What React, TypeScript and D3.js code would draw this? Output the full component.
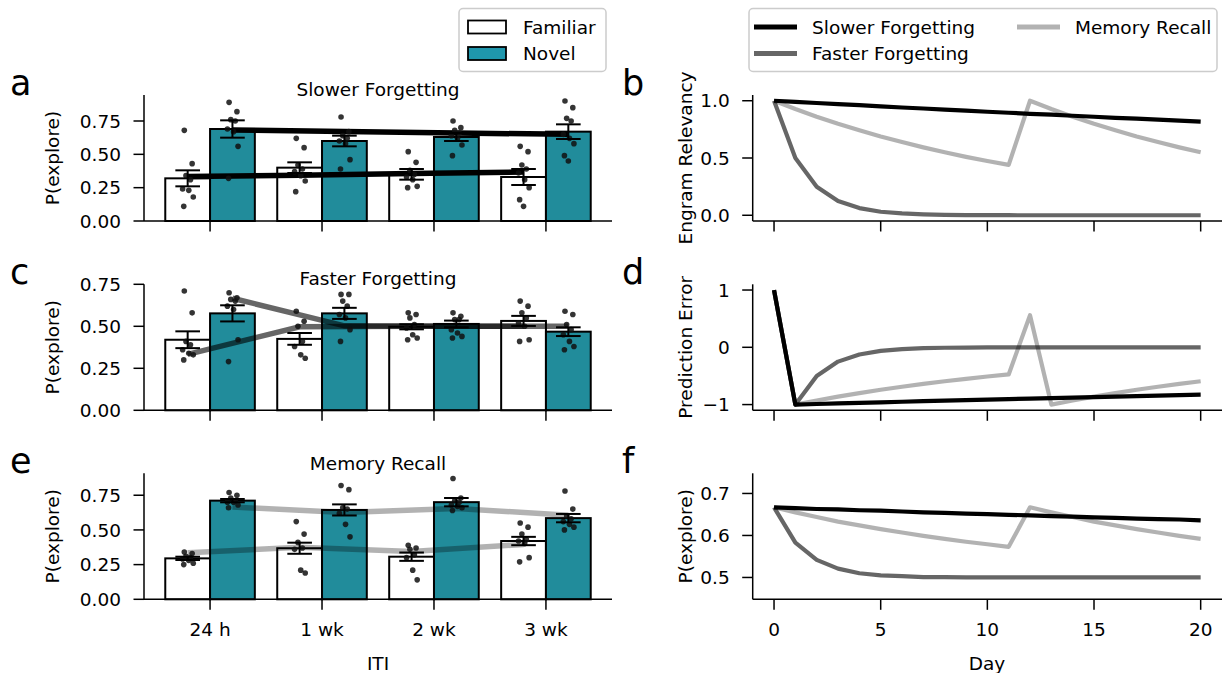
import React from "react";
import * as d3 from "d3";

// ---- data ----
const itiLabels = ["24 h", "1 wk", "2 wk", "3 wk"];
const days = [0, 1, 2, 3, 4, 5, 6, 7, 8, 9, 10, 11, 12, 13, 14, 15, 16, 17, 18, 19, 20];
const dayTicks = [0, 5, 10, 15, 20];

// a: slower forgetting (behaviour)
const slowFamMean = [0.32, 0.40, 0.35, 0.33];
const slowFamErr = [0.06, 0.04, 0.04, 0.06];
const slowNovMean = [0.69, 0.60, 0.63, 0.67];
const slowNovErr = [0.065, 0.04, 0.03, 0.055];
const slowFamDots = [
  [0.68, 0.43, 0.34, 0.31, 0.24, 0.23, 0.18, 0.11],
  [0.62, 0.55, 0.42, 0.39, 0.37, 0.34, 0.30, 0.22],
  [0.52, 0.44, 0.38, 0.35, 0.33, 0.31, 0.26, 0.25],
  [0.56, 0.52, 0.42, 0.39, 0.36, 0.31, 0.25, 0.16, 0.11],
];
const slowNovDots = [
  [0.89, 0.82, 0.76, 0.75, 0.69, 0.67, 0.56, 0.32],
  [0.78, 0.67, 0.64, 0.62, 0.60, 0.58, 0.46, 0.39],
  [0.75, 0.70, 0.68, 0.66, 0.64, 0.62, 0.57, 0.49],
  [0.90, 0.85, 0.77, 0.75, 0.65, 0.62, 0.58, 0.49, 0.45],
];
const slowFamModel = [0.334, 0.344, 0.356, 0.368];
const slowNovModel = [0.683, 0.672, 0.660, 0.650];

// c: faster forgetting
const fastFamMean = [0.42, 0.425, 0.497, 0.532];
const fastFamErr = [0.05, 0.035, 0.015, 0.03];
const fastNovMean = [0.577, 0.577, 0.514, 0.468];
const fastNovErr = [0.048, 0.033, 0.02, 0.026];
const fastFamDots = [
  [0.71, 0.58, 0.41, 0.39, 0.36, 0.34, 0.33, 0.30],
  [0.59, 0.53, 0.50, 0.41, 0.38, 0.33, 0.31],
  [0.58, 0.57, 0.55, 0.51, 0.49, 0.45, 0.43, 0.42],
  [0.65, 0.62, 0.58, 0.55, 0.52, 0.50, 0.42, 0.41],
];
const fastNovDots = [
  [0.70, 0.67, 0.66, 0.65, 0.62, 0.60, 0.42, 0.29],
  [0.69, 0.69, 0.65, 0.62, 0.57, 0.55, 0.48, 0.41],
  [0.58, 0.56, 0.54, 0.54, 0.48, 0.46, 0.44, 0.43],
  [0.59, 0.57, 0.51, 0.48, 0.45, 0.41, 0.38, 0.36],
];
const fastFamModel = [0.333, 0.497, 0.5, 0.5];
const fastNovModel = [0.667, 0.503, 0.5, 0.5];

// e: memory recall
const recFamMean = [0.295, 0.368, 0.307, 0.42];
const recFamErr = [0.012, 0.04, 0.03, 0.03];
const recNovMean = [0.711, 0.644, 0.70, 0.585];
const recNovErr = [0.012, 0.04, 0.03, 0.03];
const recFamDots = [
  [0.34, 0.33, 0.31, 0.30, 0.29, 0.28, 0.26, 0.25],
  [0.56, 0.47, 0.41, 0.37, 0.36, 0.21, 0.19],
  [0.39, 0.37, 0.36, 0.32, 0.30, 0.21, 0.14],
  [0.55, 0.52, 0.47, 0.43, 0.42, 0.40, 0.30, 0.27],
];
const recNovDots = [
  [0.77, 0.75, 0.73, 0.71, 0.70, 0.70, 0.68, 0.66],
  [0.82, 0.79, 0.66, 0.65, 0.62, 0.54, 0.45],
  [0.87, 0.73, 0.71, 0.70, 0.68, 0.67, 0.66, 0.64],
  [0.78, 0.65, 0.60, 0.58, 0.56, 0.54, 0.52, 0.50],
];
const recFamModel = [0.335, 0.375, 0.345, 0.395];
const recNovModel = [0.665, 0.625, 0.655, 0.605];

// b: engram relevancy
const relSlow = [1.0, 0.990, 0.980, 0.970, 0.961, 0.951, 0.941, 0.932, 0.923, 0.914, 0.904, 0.895, 0.886, 0.878, 0.869, 0.860, 0.851, 0.843, 0.835, 0.826, 0.818];
const relFast = [1.0, 0.5, 0.25, 0.125, 0.0625, 0.031, 0.016, 0.008, 0.004, 0.002, 0.001, 0.0005, 0, 0, 0, 0, 0, 0, 0, 0, 0];
const relRecall = [1.0, 0.928, 0.861, 0.799, 0.742, 0.688, 0.639, 0.593, 0.550, 0.510, 0.474, 0.440, 1.0, 0.928, 0.861, 0.799, 0.742, 0.688, 0.639, 0.593, 0.550];

// d: prediction error
const peSlow = [1.0, -1.0, -0.990, -0.980, -0.970, -0.961, -0.951, -0.941, -0.932, -0.923, -0.914, -0.904, -0.895, -0.886, -0.878, -0.869, -0.860, -0.851, -0.843, -0.835, -0.826];
const peFast = [1.0, -1.0, -0.5, -0.25, -0.125, -0.0625, -0.031, -0.016, -0.008, -0.004, -0.002, -0.001, 0, 0, 0, 0, 0, 0, 0, 0, 0];
const peRecall = [1.0, -1.0, -0.928, -0.861, -0.799, -0.742, -0.688, -0.639, -0.593, -0.550, -0.510, -0.474, 0.56, -1.0, -0.928, -0.861, -0.799, -0.742, -0.688, -0.639, -0.593];

// f: P(explore)
const pSlow = [0.667, 0.665, 0.663, 0.662, 0.660, 0.659, 0.657, 0.655, 0.654, 0.652, 0.651, 0.649, 0.648, 0.646, 0.645, 0.643, 0.642, 0.640, 0.639, 0.638, 0.636];
const pFast = [0.667, 0.583, 0.542, 0.521, 0.510, 0.505, 0.503, 0.501, 0.501, 0.500, 0.500, 0.500, 0.5, 0.5, 0.5, 0.5, 0.5, 0.5, 0.5, 0.5, 0.5];
const pRecall = [0.667, 0.655, 0.644, 0.633, 0.624, 0.615, 0.607, 0.599, 0.592, 0.585, 0.579, 0.573, 0.667, 0.655, 0.644, 0.633, 0.624, 0.615, 0.607, 0.599, 0.592];

const seriesNames = ["Slower Forgetting", "Faster Forgetting", "Memory Recall"];
const seriesAlpha = [1, 0.6, 0.3];

const FONT = "DejaVu Sans, sans-serif";
const FS = 18.5;
const TEAL = "#218c9b";
const jitter = [-0.03, 0.04, -0.015, 0.025, -0.045, 0.01, 0.05, -0.035, 0.0];

const LEFT_X0 = 144, LEFT_X1 = 612;
const RIGHT_X0 = 752.7, RIGHT_X1 = 1222;
const ROWS = [95, 284.3, 473.3];
const AX_H = 126;

function YAxis({ x, y, ticks, fmt }: any) {
  const r = y.range();
  return (
    <g>
      <line x1={x} x2={x} y1={r[0]} y2={r[1]} stroke="#000" strokeWidth={1.5} />
      {ticks.map((t: number) => (
        <g key={t}>
          <line x1={x - 10.5} x2={x} y1={y(t)} y2={y(t)} stroke="#000" strokeWidth={1.5} />
          <text x={x - 23} y={y(t)} dy="0.36em" textAnchor="end" fontSize={FS} fontFamily={FONT}>{fmt(t)}</text>
        </g>
      ))}
    </g>
  );
}

function XAxis({ y, x, ticks, labels }: any) {
  const r = x.range();
  return (
    <g>
      <line x1={r[0]} x2={r[1]} y1={y} y2={y} stroke="#000" strokeWidth={1.5} />
      {ticks.map((t: number, i: number) => (
        <g key={i}>
          <line x1={x(t)} x2={x(t)} y1={y} y2={y + 10.5} stroke="#000" strokeWidth={1.5} />
          {labels && (
            <text x={x(t)} y={y + 36.5} textAnchor="middle" fontSize={FS} fontFamily={FONT}>{labels[i]}</text>
          )}
        </g>
      ))}
    </g>
  );
}

function BarPanel({ top, yMax, title, titleY, letter, famMean, famErr, novMean, novErr, famDots, novDots, famModel, novModel, alpha, showLabels }: any) {
  const x = d3.scaleLinear().domain([-0.59, 3.59]).range([LEFT_X0, LEFT_X1]);
  const y = d3.scaleLinear().domain([0, yMax]).range([top + AX_H, top]);
  const bw = x(0.4) - x(0);
  const idx = itiLabels.map((_, i) => i);
  const famLine = d3.line<number>().x((_, i) => x(i - 0.2)).y((d) => y(d));
  const novLine = d3.line<number>().x((_, i) => x(i + 0.2)).y((d) => y(d));
  const cap = x(0.11) - x(0);
  const groups = [
    { mean: famMean, err: famErr, dots: famDots, off: -0.2, fill: "#fff" },
    { mean: novMean, err: novErr, dots: novDots, off: 0.2, fill: TEAL },
  ];
  return (
    <g>
      <text x={10} y={top} fontSize={35} fontFamily={FONT}>{letter}</text>
      <text x={(LEFT_X0 + LEFT_X1) / 2} y={titleY} textAnchor="middle" fontSize={FS} fontFamily={FONT}>{title}</text>
      <text transform={`translate(59,${top + AX_H / 2}) rotate(-90)`} textAnchor="middle" fontSize={FS} fontFamily={FONT}>P(explore)</text>
      {groups.map((g, gi) =>
        idx.map((i) => (
          <rect key={`b${gi}${i}`} x={x(i + g.off) - bw / 2} y={y(g.mean[i])} width={bw} height={y(0) - y(g.mean[i])}
            fill={g.fill} stroke="#000" strokeWidth={2} />
        ))
      )}
      <path d={famLine(famModel) || ""} fill="none" stroke="#000" strokeOpacity={alpha} strokeWidth={5.5} />
      <path d={novLine(novModel) || ""} fill="none" stroke="#000" strokeOpacity={alpha} strokeWidth={5.5} />
      {groups.map((g, gi) =>
        idx.map((i) =>
          g.dots[i].map((v: number, k: number) => (
            <circle key={`d${gi}${i}${k}`} cx={x(i + g.off + jitter[k % jitter.length])} cy={y(v)} r={2.8} fill="#111" fillOpacity={0.85} />
          ))
        )
      )}
      {groups.map((g, gi) =>
        idx.map((i) => {
          const cx = x(i + g.off);
          const y1 = y(g.mean[i] + g.err[i]);
          const y2 = y(g.mean[i] - g.err[i]);
          return (
            <g key={`e${gi}${i}`} stroke="#000" strokeWidth={2}>
              <line x1={cx} x2={cx} y1={y1} y2={y2} />
              <line x1={cx - cap} x2={cx + cap} y1={y1} y2={y1} />
              <line x1={cx - cap} x2={cx + cap} y1={y2} y2={y2} />
            </g>
          );
        })
      )}
      <YAxis x={LEFT_X0} y={y} ticks={[0, 0.25, 0.5, 0.75]} fmt={d3.format(".2f")} />
      <XAxis y={top + AX_H} x={x} ticks={idx} labels={showLabels ? itiLabels : null} />
    </g>
  );
}

function LinePanel({ top, domain, ticks, fmt, ylabel, letter, series, showLabels }: any) {
  const x = d3.scaleLinear().domain([-1, 21]).range([RIGHT_X0, RIGHT_X1]);
  const y = d3.scaleLinear().domain(domain).range([top + AX_H, top]);
  const line = d3.line<number>().x((_, i) => x(days[i])).y((d) => y(d));
  return (
    <g>
      <text x={622} y={top} fontSize={35} fontFamily={FONT}>{letter}</text>
      <text transform={`translate(692,${top + AX_H / 2}) rotate(-90)`} textAnchor="middle" fontSize={FS} fontFamily={FONT}>{ylabel}</text>
      {series.map((s: number[], i: number) => (
        <path key={i} d={line(s) || ""} fill="none" stroke="#000" strokeOpacity={seriesAlpha[i]} strokeWidth={4.2} strokeLinejoin="round" />
      ))}
      <YAxis x={RIGHT_X0} y={y} ticks={ticks} fmt={fmt} />
      <XAxis y={top + AX_H} x={x} ticks={dayTicks} labels={showLabels ? dayTicks.map(String) : null} />
    </g>
  );
}

function Legends() {
  return (
    <g fontFamily={FONT} fontSize={FS}>
      <rect x={459} y={8.5} width={147} height={63} rx={4} fill="#fff" stroke="#ccc" strokeWidth={1.5} />
      <rect x={468} y={20.5} width={38} height={13} fill="#fff" stroke="#000" strokeWidth={1.8} />
      <text x={523} y={33.5}>Familiar</text>
      <rect x={468} y={47} width={38} height={13} fill="#1f97ad" stroke="#000" strokeWidth={1.8} />
      <text x={523} y={60}>Novel</text>

      <rect x={749} y={8.5} width={468} height={63} rx={4} fill="#fff" stroke="#ccc" strokeWidth={1.5} />
      {seriesNames.map((n, i) => {
        const col = i === 2 ? 1 : 0;
        const row = i === 2 ? 0 : i;
        const sx = col ? 1017 : 754;
        const cy = row ? 53.5 : 27;
        return (
          <g key={n}>
            <line x1={sx} x2={sx + 43} y1={cy} y2={cy} stroke="#000" strokeOpacity={seriesAlpha[i]} strokeWidth={5} />
            <text x={sx + 58} y={cy + 6.5}>{n}</text>
          </g>
        );
      })}
    </g>
  );
}

export default function App() {
  return (
    <svg width={1224} height={673} style={{ position: "absolute", left: 0, top: 0, background: "#fff" }}>
      <BarPanel top={ROWS[0]} yMax={0.945} title="Slower Forgetting" titleY={96} letter="a"
        famMean={slowFamMean} famErr={slowFamErr} novMean={slowNovMean} novErr={slowNovErr}
        famDots={slowFamDots} novDots={slowNovDots} famModel={slowFamModel} novModel={slowNovModel} alpha={1} />
      <BarPanel top={ROWS[1]} yMax={0.75} title="Faster Forgetting" titleY={285} letter="c"
        famMean={fastFamMean} famErr={fastFamErr} novMean={fastNovMean} novErr={fastNovErr}
        famDots={fastFamDots} novDots={fastNovDots} famModel={fastFamModel} novModel={fastNovModel} alpha={0.6} />
      <BarPanel top={ROWS[2]} yMax={0.908} title="Memory Recall" titleY={470} letter="e"
        famMean={recFamMean} famErr={recFamErr} novMean={recNovMean} novErr={recNovErr}
        famDots={recFamDots} novDots={recNovDots} famModel={recFamModel} novModel={recNovModel} alpha={0.3} showLabels />
      <text x={378} y={670} textAnchor="middle" fontSize={FS} fontFamily={FONT}>ITI</text>

      <LinePanel top={ROWS[0]} domain={[-0.05, 1.05]} ticks={[0, 0.5, 1]} fmt={d3.format(".1f")} ylabel="Engram Relevancy" letter="b"
        series={[relSlow, relFast, relRecall]} />
      <LinePanel top={ROWS[1]} domain={[-1.1, 1.1]} ticks={[-1, 0, 1]} fmt={d3.format("d")} ylabel="Prediction Error" letter="d"
        series={[peSlow, peFast, peRecall]} />
      <LinePanel top={ROWS[2]} domain={[0.448, 0.748]} ticks={[0.5, 0.6, 0.7]} fmt={d3.format(".1f")} ylabel="P(explore)" letter="f"
        series={[pSlow, pFast, pRecall]} showLabels />
      <text x={987} y={670} textAnchor="middle" fontSize={FS} fontFamily={FONT}>Day</text>

      <Legends />
    </svg>
  );
}
